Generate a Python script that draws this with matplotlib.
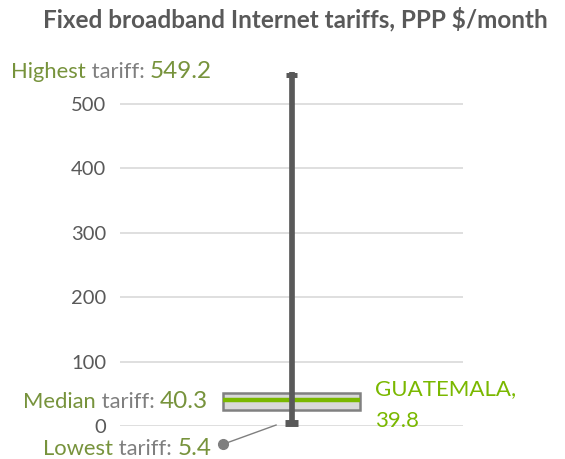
import matplotlib.pyplot as plt

plt.rcParams["font.family"] = ["Lato", "DejaVu Sans"]

# values (PPP $/month)
lowest = 5.4
q1 = 25.0
q3 = 52.0
median = 40.3
highest = 549.2
country = "GUATEMALA"
country_value = 39.8
yticks = [0, 100, 200, 300, 400, 500]

olive = "#77933C"
bright = "#7AB800"
grey_txt = "#7F7F7F"
dark = "#595959"

fig = plt.figure(figsize=(5.65, 4.59), dpi=100)
ax = fig.add_axes([120 / 565, 33 / 459, 343 / 565, 354.2 / 459])
ax.set_xlim(0, 1)
ax.set_ylim(0, 550)

xc = 0.5
half = 0.2

ax.set_yticks(yticks)
ax.set_xticks([])
ax.grid(axis="y", color="#D9D9D9", lw=1.2)
ax.set_axisbelow(True)
for s in ax.spines.values():
    s.set_visible(False)
ax.tick_params(axis="y", length=0, labelsize=14.5, labelcolor=dark, pad=10)

# box
ax.add_patch(plt.Rectangle((xc - half, q1), 2 * half, q3 - q1, facecolor="#D9D9D9",
                           edgecolor="#808080", lw=1.8, zorder=2))
ax.plot([xc - half, xc + half], [country_value, country_value], color=bright, lw=3.2,
        solid_capstyle="butt", zorder=3)

# whisker and caps
ax.plot([xc, xc], [lowest, highest], color=dark, lw=4.1, solid_capstyle="butt", zorder=4,
        clip_on=False)
ax.plot([xc - 0.017, xc + 0.017], [highest - 3.5, highest - 3.5], color=dark, lw=3.6,
        zorder=4, solid_capstyle="butt", clip_on=False)
ax.plot([xc - 0.018, xc + 0.018], [lowest, lowest], color=dark, lw=5, zorder=4,
        solid_capstyle="butt", clip_on=False)

fig.text(0.522, 1 - 27 / 459, "Fixed broadband Internet tariffs, PPP $/month", ha="center",
         va="baseline", fontsize=17.5, fontweight="bold", color=dark)


def chain(x, y, parts):
    t = fig.text(x / 565, 1 - y / 459, parts[0][0], color=parts[0][1], fontsize=parts[0][2],
                 va="baseline", ha="left")
    for txt, col, fs in parts[1:]:
        t = ax.annotate(txt, xy=(1, 0), xycoords=t, va="bottom", ha="left",
                        color=col, fontsize=fs, annotation_clip=False)
    return t


chain(11, 78, [("Highest", olive, 15.8), (" tariff: ", grey_txt, 15.8),
               (f"{highest}", olive, 17.5)])
chain(23, 408, [("Median", olive, 15.8), (" tariff: ", grey_txt, 15.8),
                (f"{median}", olive, 17.5)])
chain(43, 455, [("Lowest", olive, 15.8), (" tariff: ", grey_txt, 15.8),
                (f"{lowest}", olive, 17.5)])

fig.text(375 / 565, 1 - 395 / 459, f"{country},", color=bright, fontsize=16, va="baseline")
fig.text(375 / 565, 1 - 427 / 459, f"{country_value}", color=bright, fontsize=16, va="baseline")

# pointer to lowest tariff
ax.plot([0.30, 0.455], [-28.4, 1.5], color=grey_txt, lw=1, clip_on=False, zorder=5)
ax.plot([0.30], [-28.4], "o", color=grey_txt, ms=7, clip_on=False, zorder=5)

fig.savefig("out.png", dpi=100)
